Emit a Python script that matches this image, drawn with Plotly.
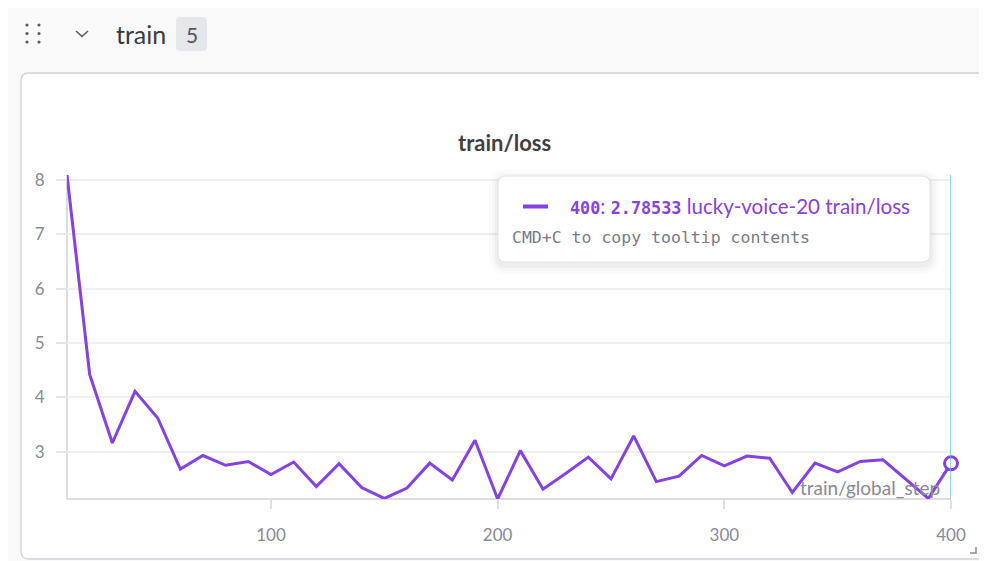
import plotly.graph_objects as go

# ---------------- data ----------------
steps = [10, 20, 30, 40, 50, 60, 70, 80, 90, 100,
         110, 120, 130, 140, 150, 160, 170, 180, 190, 200,
         210, 220, 230, 240, 250, 260, 270, 280, 290, 300,
         310, 320, 330, 340, 350, 360, 370, 380, 390, 400]
loss = [8.09, 4.42, 3.16, 4.11, 3.62, 2.68, 2.93, 2.75, 2.82, 2.58,
        2.81, 2.36, 2.78, 2.34, 2.14, 2.33, 2.79, 2.48, 3.21, 2.13,
        3.02, 2.31, 2.60, 2.90, 2.50, 3.29, 2.45, 2.55, 2.93, 2.74,
        2.92, 2.88, 2.25, 2.79, 2.63, 2.82, 2.85, 2.50, 2.14, 2.78533]
x_ticks = [100, 200, 300, 400]
y_ticks = [3, 4, 5, 6, 7, 8]
panel_title = "train/loss"
x_title = "train/global_step"
run_name = "lucky-voice-20"
section_name = "train"
section_count = "5"

# The page body has an 8px margin; the figure is sized/shifted to compensate.
OFF = 8
W, H = 987 - OFF, 561 - OFF
L, R, T, B = 67, 951, 175, 499  # plot area in reference pixels

LINE = "#8442e0"
GRID = "#f0f0f2"
AXIS = "#dcdce3"
TICKC = "#8a8a94"

def px(X):
    return (X - L) / (R - L)

def py(Y):
    return (B - Y) / (B - T)

def rrect(x0, y0, x1, y1, r):
    a0, a1 = px(x0), px(x1)
    b0, b1 = py(y0), py(y1)
    rx = r / (R - L)
    ry = r / (B - T)
    return (f"M{a0+rx},{b0} L{a1-rx},{b0} Q{a1},{b0} {a1},{b0-ry} "
            f"L{a1},{b1+ry} Q{a1},{b1} {a1-rx},{b1} L{a0+rx},{b1} "
            f"Q{a0},{b1} {a0},{b1+ry} L{a0},{b0-ry} Q{a0},{b0} {a0+rx},{b0} Z")

fig = go.Figure()

fig.add_trace(go.Scatter(x=steps, y=loss, mode="lines",
                         line=dict(color=LINE, width=3),
                         hoverinfo="skip", showlegend=False))
fig.add_trace(go.Scatter(x=[steps[-1]], y=[loss[-1]], mode="markers",
                         marker=dict(size=13, color="white",
                                     line=dict(color=LINE, width=3)),
                         hoverinfo="skip", showlegend=False, cliponaxis=False))

shapes = []
# page background outside panel
shapes.append(dict(type="rect", xref="paper", yref="paper", layer="below",
                   x0=px(0), x1=px(987), y0=py(561), y1=py(0),
                   fillcolor="#f9f9fa", line=dict(width=0)))
# panel
shapes.append(dict(type="path", xref="paper", yref="paper", layer="below",
                   path=rrect(21, 73, 985.5, 559, 8),
                   fillcolor="white", line=dict(color="#d2d2d8", width=1.3)))
# axis lines
shapes.append(dict(type="line", xref="paper", yref="paper", layer="below",
                   x0=0, x1=0, y0=0, y1=1, line=dict(color=AXIS, width=2)))
shapes.append(dict(type="line", xref="paper", yref="paper", layer="below",
                   x0=0, x1=1, y0=0, y1=0, line=dict(color=AXIS, width=2)))
# hover line
shapes.append(dict(type="line", xref="x", yref="paper", layer="above",
                   x0=steps[-1], x1=steps[-1], y0=0, y1=1,
                   line=dict(color="#4fc6d2", width=1.3)))
# tooltip shadow + box
for i, a in enumerate([0.015, 0.02, 0.03]):
    g = 9 - 3 * i
    shapes.append(dict(type="path", xref="paper", yref="paper", layer="above",
                       path=rrect(498 - g, 176 - g + 3, 930 + g, 262 + g + 3, 8 + g),
                       fillcolor=f"rgba(0,0,0,{a})", line=dict(width=0)))
shapes.append(dict(type="path", xref="paper", yref="paper", layer="above",
                   path=rrect(498, 176, 930, 262, 8),
                   fillcolor="white", line=dict(color="#e4e4e8", width=1)))
# legend dash in tooltip
shapes.append(dict(type="line", xref="paper", yref="paper", layer="above",
                   x0=px(523), x1=px(548), y0=py(206.5), y1=py(206.5),
                   line=dict(color=LINE, width=4)))
# header: drag dots
for cx in (27, 39):
    for cy in (25, 33.5, 42):
        shapes.append(dict(type="circle", xref="paper", yref="paper",
                           x0=px(cx - 1.6), x1=px(cx + 1.6),
                           y0=py(cy + 1.6), y1=py(cy - 1.6),
                           fillcolor="#5a5a62", line=dict(width=0)))
# chevron
shapes.append(dict(type="path", xref="paper", yref="paper",
                   path=f"M{px(76)},{py(31)} L{px(82)},{py(36.5)} L{px(88)},{py(31)}",
                   line=dict(color="#5a5a62", width=1.6)))
# count badge
shapes.append(dict(type="path", xref="paper", yref="paper", layer="below",
                   path=rrect(176, 17, 207, 51, 4),
                   fillcolor="#e6e7ea", line=dict(width=0)))
# resize handle
shapes.append(dict(type="path", xref="paper", yref="paper",
                   path=f"M{px(970)},{py(553)} L{px(976)},{py(553)} L{px(976)},{py(547)}",
                   line=dict(color="#8a8a94", width=1.5)))

SANS = "Lato, 'Noto Sans', sans-serif"
MONO = "DejaVu Sans Mono, monospace"
MONO_SPAN = "<span style=\"font-family:DejaVu Sans Mono;font-size:16.8px\"><b>{}</b></span>"

annotations = [
    dict(text=f"<b>{panel_title}</b>", x=px(504), y=py(142), xref="paper", yref="paper",
         showarrow=False, xanchor="center", yanchor="middle",
         font=dict(family=SANS, size=22, color="#3f3f46")),
    dict(text=section_name, x=px(114), y=py(34), xref="paper", yref="paper",
         showarrow=False, xanchor="left", yanchor="middle",
         font=dict(family=SANS, size=25, color="#3a3a40")),
    dict(text=section_count, x=px(191.5), y=py(34), xref="paper", yref="paper",
         showarrow=False, xanchor="center", yanchor="middle",
         font=dict(family=SANS, size=21, color="#55555c")),
    dict(text=x_title, x=px(942), y=py(487), xref="paper", yref="paper",
         showarrow=False, xanchor="right", yanchor="middle",
         font=dict(family=SANS, size=19, color="#8a8a94")),
    dict(text=(MONO_SPAN.format(steps[-1]) + ": " +
               MONO_SPAN.format(f"{loss[-1]:.5f}") +
               f" {run_name} {panel_title}"),
         x=px(568), y=py(206), xref="paper", yref="paper",
         showarrow=False, xanchor="left", yanchor="middle",
         font=dict(family=SANS, size=20.5, color=LINE)),
    dict(text="CMD+C to copy tooltip contents", x=px(510), y=py(237),
         xref="paper", yref="paper", showarrow=False,
         xanchor="left", yanchor="middle",
         font=dict(family=MONO, size=16.5, color="#7a7a84")),
]

fig.update_layout(
    width=W, height=H,
    margin=dict(l=L - OFF, r=W - (R - OFF), t=T - OFF, b=H - (B - OFF), pad=0,
                autoexpand=False),
    paper_bgcolor="#f9f9fa", plot_bgcolor="rgba(0,0,0,0)",
    shapes=shapes, annotations=annotations,
    showlegend=False,
    xaxis=dict(range=[steps[0], steps[-1]], tickvals=x_ticks,
               ticktext=[str(v) for v in x_ticks], automargin=False,
               showgrid=False, zeroline=False, showline=False,
               ticks="outside", ticklen=9, tickcolor="#e0e0e4", tickwidth=1.5,
               ticklabelstandoff=12,
               tickfont=dict(family=SANS, size=17, color=TICKC)),
    yaxis=dict(range=[min(loss), max(loss)], tickvals=y_ticks,
               ticktext=[str(v) for v in y_ticks], automargin=False,
               showgrid=True, gridcolor=GRID, gridwidth=1.5,
               zeroline=False, showline=False,
               ticks="outside", ticklen=10, tickcolor="#e6e6ea", tickwidth=1.5,
               ticklabelstandoff=8,
               tickfont=dict(family=SANS, size=17, color=TICKC)),
    font=dict(family=SANS),
)

fig.write_html("out.html")
